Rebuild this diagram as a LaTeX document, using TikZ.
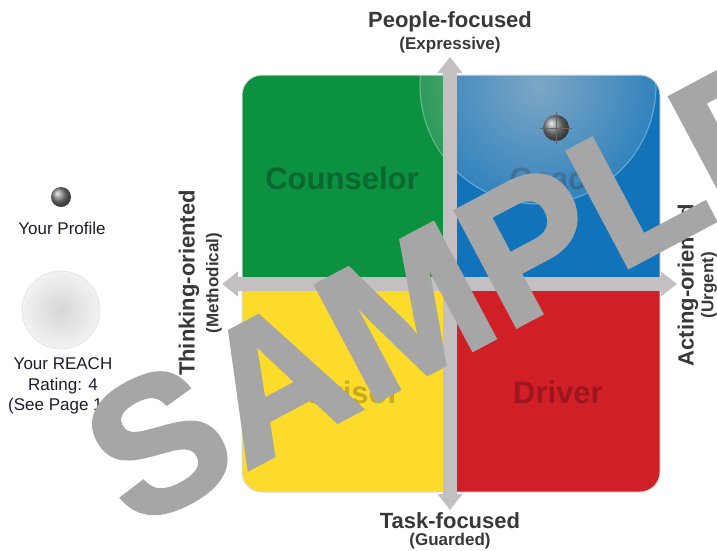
\documentclass[tikz,border=0pt]{standalone}
\usepackage{fontspec}
\setmainfont{Liberation Sans}
\newfontfamily\wmfont[FakeBold=2]{Liberation Sans Bold}
\usetikzlibrary{arrows.meta,fadings,positioning}

\definecolor{qgreen}{HTML}{0C9141}
\definecolor{qblue}{HTML}{1174BB}
\definecolor{qyellow}{HTML}{FDDB2A}
\definecolor{qred}{HTML}{D01F27}
\definecolor{axisgray}{HTML}{C4BFC0}
\definecolor{labelgray}{HTML}{383838}
\definecolor{legendink}{HTML}{1C1C30}
\definecolor{wmgray}{HTML}{A6A6A6}

\tikzfading[name=reachfade, inner color=transparent!42, outer color=transparent!82]

\tikzset{
  quadlabel/.style={font=\fontsize{31}{31}\selectfont\bfseries, inner sep=0pt},
  axislabel/.style={font=\fontsize{22}{22}\selectfont\bfseries, text=labelgray, inner sep=0pt},
  axissub/.style={font=\fontsize{17}{17}\selectfont\bfseries, text=labelgray, inner sep=0pt},
  legendtext/.style={font=\fontsize{17}{20.5}\selectfont, text=legendink, align=center, inner sep=0pt},
  profdot/.style={circle, minimum size=26pt, inner sep=0pt, ball color=black!50},
  axis/.style={draw=axisgray, line width=14pt,
    {Triangle[length=16pt,width=24pt]}-{Triangle[length=16pt,width=24pt]}},
  watermark/.style={font=\fontsize{190}{190}\wmfont, text=wmgray, inner sep=0pt}
}

\begin{document}
\begin{tikzpicture}[x=1pt,y=-1pt]
    \useasboundingbox (0,0) rectangle (717,550);

    % quadrants
    \begin{scope}
    \clip[rounded corners=20pt] (242,75) rectangle (660,492);
    \fill[qgreen] (242,75) rectangle (450,284);
    \fill[qblue] (450,75) rectangle (660,284);
    \fill[qyellow] (242,284) rectangle (450,492);
    \fill[qred] (450,284) rectangle (660,492);
    \node[quadlabel, text=qgreen!72!black] (counselor) at (342,178) {Counselor};
    \node[quadlabel, text=qblue!70!black] (coach) at (557,178) {Coach};
    \node[quadlabel, text=qyellow!78!black] (advisor) at (342,392) {Advisor};
    \node[quadlabel, text=qred!75!black] (driver) at (558,392) {Driver};
    % reach circle
    \fill[white!80!black, path fading=reachfade] (538,86) circle (118);
    \draw[white, opacity=0.3, line width=1.2pt] (538,86) circle (118);
    \end{scope}
    \draw[black!15, line width=1pt, rounded corners=20pt] (242,75) rectangle (660,492);

    % axes
    \coordinate (top) at (450,57);
    \coordinate (bottom) at (450,510);
    \coordinate (left) at (222,284);
    \coordinate (right) at (677,284);
    \draw[axis] (top) -- (bottom);
    \draw[axis] (left) -- (right);

    \node[axislabel] (people) at (450,22) {People-focused};
    \node[axissub] (expressive) at (450,45) {(Expressive)};
    \node[axislabel] (task) at (450,521) {Task-focused};
    \node[axissub] (guarded) at (450,541) {(Guarded)};
    \node[axislabel, rotate=90] (thinking) at (189,283) {Thinking-oriented};
    \node[axissub, rotate=90] (methodical) at (214,283) {(Methodical)};
    \node[axislabel, rotate=90] (acting) at (688,285) {Acting-oriented};
    \node[axissub, rotate=90] (urgent) at (709,285) {(Urgent)};

    % profile
    \node[profdot] (you) at (556,128) {};
    \draw[black!60, line width=0.7pt] ([xshift=-3pt]you.west) -- ([xshift=3pt]you.east);
    \draw[black!60, line width=0.7pt] ([yshift=3pt]you.north) -- ([yshift=-3pt]you.south);

    % legend
    \node[profdot, minimum size=20pt] (legdot) at (61,197) {};
    \node[legendtext] (legprofile) at (62,228) {Your Profile};
    \node[circle, minimum size=78pt, draw=black!15, inner color=black!16, outer color=black!5] (legreach) at (61,310) {};
    \node[legendtext] (legrating) at (63,386) {Your REACH\\Rating: 4\\(See Page 10)};

    \node[watermark, rotate=28] (sample) at (452,287) {SAMPLE};
\end{tikzpicture}
\end{document}
